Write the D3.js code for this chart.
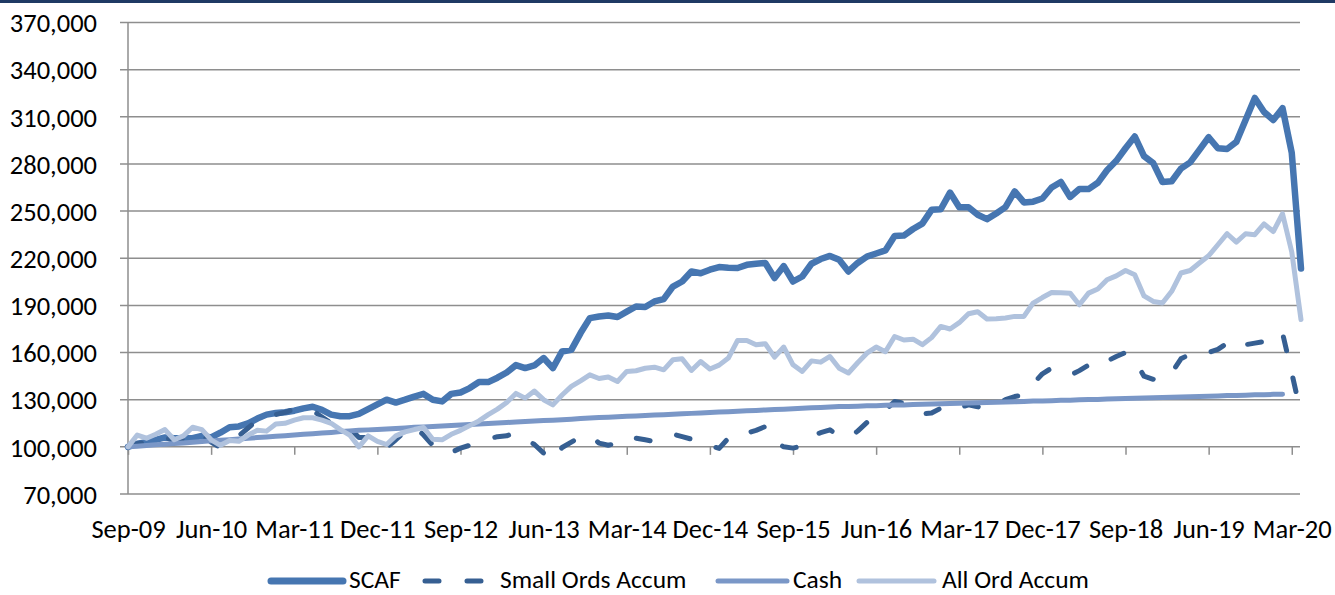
<!DOCTYPE html>
<html>
<head>
<meta charset="utf-8">
<script src="https://cdn.jsdelivr.net/npm/d3@7"></script>
<style>
  body { margin: 0; background: #fff; }
  text { font-family: Carlito, "Noto Sans", sans-serif; fill: #000; }
</style>
</head>
<body>
<div id="chart"></div>
<script>
// values in thousands, one per month from Sep-09
const tickLabels = ["Sep-09","Jun-10","Mar-11","Dec-11","Sep-12","Jun-13","Mar-14","Dec-14","Sep-15","Jun-16","Mar-17","Dec-17","Sep-18","Jun-19","Mar-20"];
const yTicks = [70,100,130,160,190,220,250,280,310,340,370];

const scaf = [100,102,103,104.5,106,105.5,105.5,105.5,107,106,
  109,112.5,113,115,118,120.5,121.5,122,123,124.5,
  125.5,123.5,120.5,119.5,119.5,121,124,127,130,128.2,
  130,132,133.7,130,128.9,133.7,134.6,137.4,141.2,141.2,
  144,147.3,152,150.1,151.8,156.5,150.1,160.7,161.7,172.4,
  181.9,182.9,183.6,182.6,186,189.3,189,192.5,194,202,
  205.2,211.6,210.5,212.7,214.4,214,213.8,215.8,216.5,217,
  207.4,215,205.2,208.4,216.5,219.5,221.5,219,211.6,217,
  221,223,225,234.2,234.4,238.6,242,250.8,251.2,261.8,
  252.5,252.5,247.7,244.9,248.5,252.5,262.5,255.5,256,258,
  265,268.5,259,264,264,268,276,282,290,297.5,
  285,280.5,268.5,269,277,281,289,297,290,289.5,
  294,308,322,313,308,315.5,287,213.5];

const smallOrds = [100,102,103,104,106,104,105,109.5,108,103,
  99.5,103.5,107,112,117,120,120.5,122,124,123.5,
  123,119,115,113.4,112,106,106,102,99.5,104.5,
  110,113.4,107.5,101,96,96.5,99.2,101,103,105,
  106.5,107,109,105,101.5,96,91,99.6,103,106.5,
  107.6,102.4,101,102.4,106.6,105.5,104.5,103.4,105.5,108.1,
  106.5,104.9,104.5,100.8,99,105.5,109.5,108.7,110.5,112.9,
  103.4,100,99.2,100.5,107,109,110.8,107,105.5,110,
  115.5,120,123.5,128.8,127.8,126,121,121.5,124.6,122,
  125,126.7,125.5,124.6,127,130,132,133.1,140,146.5,
  150.1,148,145.5,148.5,152,150,154.5,157.5,160,155,
  145,143,142.6,147,156,159,161.3,160,162,166,
  162,165,166,167,167.5,172.4,147,121];

const cash = [100,100.4,100.8,101.3,101.7,102.1,102.5,102.9,103.4,103.8,
  104.2,104.6,105,105.5,105.9,106.3,106.7,107.1,107.6,108,
  108.4,108.8,109.2,109.7,110.1,110.5,110.8,111.1,111.4,111.7,
  112,112.4,112.7,113,113.3,113.6,113.9,114.2,114.5,114.8,
  115.2,115.5,115.8,116.1,116.4,116.7,117,117.3,117.6,118,
  118.3,118.6,118.9,119.1,119.4,119.7,120,120.2,120.5,120.8,
  121,121.3,121.6,121.9,122.1,122.4,122.7,122.9,123.2,123.5,
  123.8,124,124.3,124.6,124.8,125.1,125.4,125.6,125.7,125.9,
  126.1,126.2,126.4,126.6,126.7,126.9,127.1,127.2,127.4,127.6,
  127.7,127.9,128.1,128.2,128.4,128.6,128.7,128.9,129.1,129.2,
  129.4,129.6,129.7,129.9,130.1,130.2,130.4,130.6,130.7,130.9,
  131.1,131.2,131.4,131.6,131.7,131.9,132.1,132.2,132.4,132.6,
  132.7,132.9,133.1,133.2,133.4,133.5];

const allOrd = [100,107.5,105.5,108,111,104.5,107,112.5,111,104.5,
  101,104,103.5,107.5,110.5,110,114.5,115,117,118.5,
  118.5,117,115,111,107.5,100,107,103.5,101.5,107,
  109.5,111,112.3,104.8,104.5,108,110.5,113.5,116.5,120.5,
  124,128.2,134,131,135.5,130,126.7,133,138.5,142,
  145.8,143.5,144.5,141.6,148,148.4,150,150.7,149,155.4,
  156,148.6,154.3,149.5,152,156.5,167.7,167.7,165,165.6,
  157.1,163.5,152.2,148,154.7,153.9,157.5,150,147,153.5,
  159.6,163.5,160.5,170.2,168,168.5,165,169.5,176.6,175,
  179,184.7,186,181.3,181.5,182,183,183,191.5,195,
  198.2,198,197.8,190.4,197.8,200.4,206.3,208.8,212.2,209.5,
  196,192.5,191.5,199,210.6,212.2,217,221.6,228.6,235.6,
  230.3,235.6,235,241.8,237,248.3,224,181];

const series = [
  {name: "SCAF", values: scaf, color: "#4676b1", width: 6.5, dash: null},
  {name: "Small Ords Accum", values: smallOrds, color: "#365f92", width: 5, dash: "14 28"},
  {name: "Cash", values: cash, color: "#7a97c7", width: 5, dash: null},
  {name: "All Ord Accum", values: allOrd, color: "#b0c2dd", width: 5, dash: null}
];

const W = 1335, H = 595;
const fontSize = "26.5px";
const svg = d3.select("#chart").append("svg")
    .attr("width", W)
    .attr("height", H);

// top border strip
svg.append("rect").attr("x", 0).attr("y", 0).attr("width", W).attr("height", 3).attr("fill", "#1f3a64");

const x = d3.scaleLinear().domain([0, 127]).range([128, 1301]);
const y = d3.scaleLinear().domain([70, 370]).range([494, 22.5]);

// gridlines
svg.append("g").selectAll("line").data(yTicks).join("line")
    .attr("x1", 120).attr("x2", 1300)
    .attr("y1", d => y(d)).attr("y2", d => y(d))
    .attr("stroke", "#8e8e8e").attr("stroke-width", 1.5);

// y axis labels
const gy = svg.append("g").attr("transform", "translate(128,0)")
    .call(d3.axisLeft(y).tickValues(yTicks).tickSize(0).tickPadding(31)
        .tickFormat(d => d3.format(",")(d * 1000)));
gy.select(".domain").remove();
gy.selectAll("text").style("font-size", fontSize).attr("dy", "0.35em");

svg.append("line")
    .attr("x1", 128).attr("x2", 128)
    .attr("y1", y(70)).attr("y2", y(370))
    .attr("stroke", "#8e8e8e").attr("stroke-width", 1.5);

// x axis (crosses at 100,000, labels low)
const gx = svg.append("g").attr("transform", `translate(0,${y(100)})`)
    .call(d3.axisBottom(x).tickValues(d3.range(0, 127, 9)).tickSize(8)
        .tickFormat((d, i) => tickLabels[i]));
gx.select(".domain").remove();
gx.selectAll(".tick line").attr("stroke", "#8e8e8e").attr("stroke-width", 1.5);
gx.selectAll("text").style("font-size", fontSize)
    .attr("y", 529 - y(100)).attr("dy", "0.35em");

// lines
const line = d3.line()
    .x((d, i) => x(i))
    .y(d => y(d));

svg.append("g").selectAll("path").data(series).join("path")
    .attr("d", d => line(d.values))
    .attr("fill", "none")
    .attr("stroke", d => d.color)
    .attr("stroke-width", d => d.width)
    .attr("stroke-dasharray", d => d.dash)
    .attr("stroke-linejoin", "round")
    .attr("stroke-linecap", "round");

// legend
const legendPos = [
  {lx1: 271, lx2: 343, tx: 349},
  {lx1: 425, lx2: 490, tx: 500},
  {lx1: 718, lx2: 787, tx: 793},
  {lx1: 859, lx2: 934, tx: 942}
];
const ly = 579;
const lg = svg.append("g").selectAll("g").data(series).join("g");
lg.append("line")
    .attr("x1", (d, i) => legendPos[i].lx1)
    .attr("x2", (d, i) => legendPos[i].lx2)
    .attr("y1", ly + 2).attr("y2", ly + 2)
    .attr("stroke", d => d.color)
    .attr("stroke-width", (d, i) => i == 0 ? 7 : 5)
    .attr("stroke-dasharray", d => d.dash)
    .attr("stroke-linecap", "round");
lg.append("text")
    .attr("x", (d, i) => legendPos[i].tx)
    .attr("y", ly)
    .attr("dy", "0.35em")
    .style("font-size", "25.5px")
    .text(d => d.name);
</script>
</body>
</html>
